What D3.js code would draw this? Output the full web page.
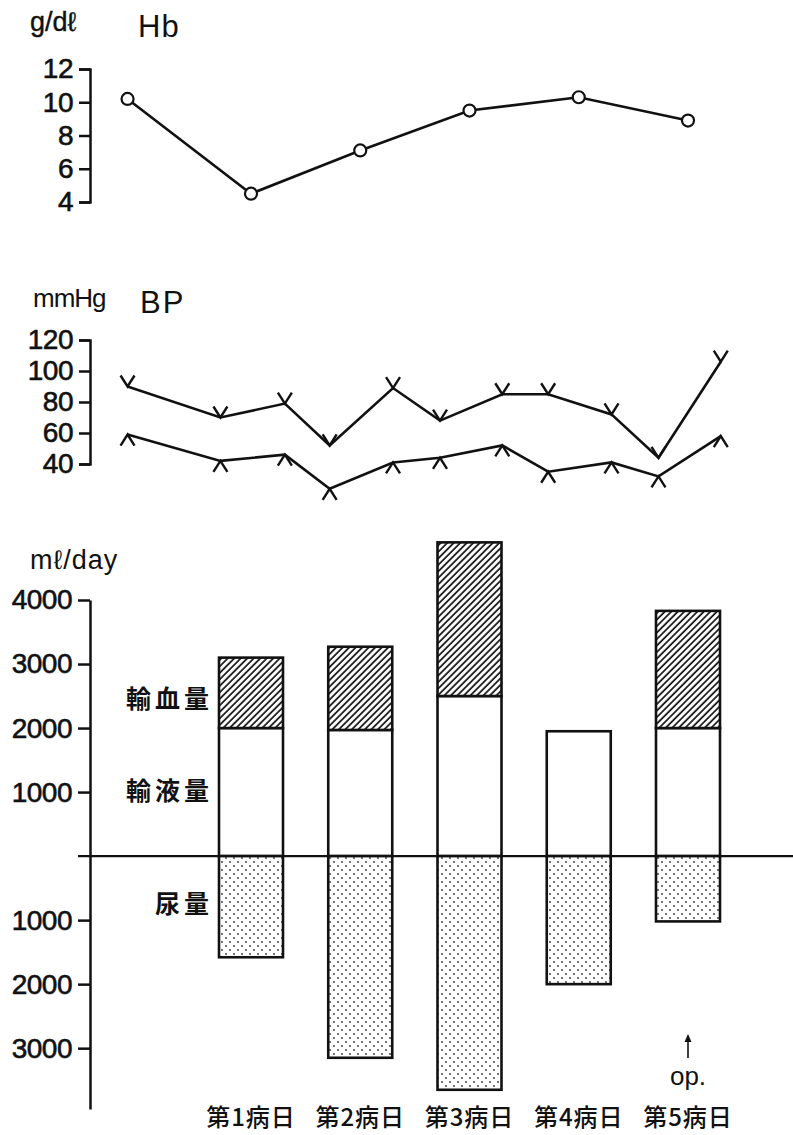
<html>
<head>
  <meta charset="utf-8">
  <script src="https://d3js.org/d3.v7.min.js"></script>
  <style>
    body { margin: 0; background: white; }
    text { fill: #111; }
  </style>
  <script>
    // day axis shared by all three panels
    var days      = [1, 2, 3, 4, 5];
    var dayLabels = ["第1病日", "第2病日", "第3病日", "第4病日", "第5病日"];

    // Hb (g/dl)
    var hbDay    = [-0.13, 1, 2, 3, 4, 5];
    var hbValues = [10.2, 4.5, 7.1, 9.5, 10.3, 8.9];
    var hbTicks  = [4, 6, 8, 10, 12];

    // BP (mmHg)
    var bpDay     = [-0.13, 0.72, 1.31, 1.72, 2.30, 2.73, 3.30, 3.72, 4.30, 4.73, 5.30];
    var systolic  = [90, 70, 79, 52, 89, 68, 85, 85, 72, 44, 106];
    var diastolic = [59, 42, 46, 24, 41, 44, 52, 35, 41, 32, 58];
    var bpTicks   = [40, 60, 80, 100, 120];

    // ml/day
    var infusion    = [2000, 1970, 2500, 1950, 2000];   // 輸液量
    var transfusion = [1100, 1300, 2400, 0, 1830];      // 輸血量
    var urine       = [1580, 3150, 3650, 2000, 1020];   // 尿量
    var volTicks    = [4000, 3000, 2000, 1000, -1000, -2000, -3000];

    var numFont = "'Liberation Sans', Arial, sans-serif";
    var cjkFont = "'Noto Sans CJK JP', sans-serif";

    function styleAxis(g) {
      g.select(".domain").attr("stroke", "#111").attr("stroke-width", 2.5);
      g.selectAll(".tick line").attr("stroke", "#111").attr("stroke-width", 2.5);
      g.selectAll(".tick text").attr("font-family", numFont).attr("font-size", 28)
          .attr("fill", "#111").attr("stroke", "#111").attr("stroke-width", 0.6)
          .attr("letter-spacing", -0.5);
    }

    function makeChart() {
      var svg = d3.select("#chart");

      var x = d3.scaleLinear().domain([1, 5]).range([251, 688]);

      var defs = svg.append("defs");
      var hatch = defs.append("pattern").attr("id", "hatch")
          .attr("width", 4.6).attr("height", 4.6)
          .attr("patternUnits", "userSpaceOnUse")
          .attr("patternTransform", "rotate(45)");
      hatch.append("rect").attr("width", 4.6).attr("height", 4.6).attr("fill", "white");
      hatch.append("line").attr("x1", 1).attr("y1", 0).attr("x2", 1).attr("y2", 4.6)
          .attr("stroke", "#111").attr("stroke-width", 1.7);

      var dots = defs.append("pattern").attr("id", "dots")
          .attr("width", 8).attr("height", 8)
          .attr("patternUnits", "userSpaceOnUse");
      dots.append("rect").attr("width", 8).attr("height", 8).attr("fill", "white");
      dots.append("circle").attr("cx", 2).attr("cy", 2).attr("r", 0.9).attr("fill", "#333");
      dots.append("circle").attr("cx", 6).attr("cy", 6).attr("r", 0.9).attr("fill", "#333");

      // ---------- Hb ----------
      var hbY = d3.scaleLinear().domain([4, 12]).range([202, 69]);
      svg.append("g").attr("transform", "translate(90,0)")
          .call(d3.axisLeft(hbY).tickValues(hbTicks).tickSize(11).tickSizeOuter(11).tickPadding(6))
          .call(styleAxis);

      svg.append("text").attr("x", 30).attr("y", 31).attr("font-family", numFont)
          .attr("font-size", 27).attr("stroke", "#111").attr("stroke-width", 0.4).text("g/dℓ");
      svg.append("text").attr("x", 138).attr("y", 37).attr("font-family", numFont)
          .attr("font-size", 31).attr("letter-spacing", 1).text("Hb");

      var hbPts = hbDay.map((d, i) => [x(d), hbY(hbValues[i])]);
      svg.append("path").attr("d", d3.line()(hbPts))
          .attr("fill", "none").attr("stroke", "#111").attr("stroke-width", 2.6);
      svg.selectAll(".hb").data(hbPts).enter().append("circle")
          .attr("cx", d => d[0]).attr("cy", d => d[1]).attr("r", 6)
          .attr("fill", "white").attr("stroke", "#111").attr("stroke-width", 2.2);

      // ---------- BP ----------
      var bpY = d3.scaleLinear().domain([40, 120]).range([464, 340]);
      svg.append("g").attr("transform", "translate(90,0)")
          .call(d3.axisLeft(bpY).tickValues(bpTicks).tickSize(11).tickSizeOuter(11).tickPadding(6))
          .call(styleAxis);

      svg.append("text").attr("x", 33).attr("y", 307).attr("font-family", numFont)
          .attr("font-size", 26).attr("letter-spacing", -1).text("mmHg");
      svg.append("text").attr("x", 140).attr("y", 313).attr("font-family", numFont)
          .attr("font-size", 31).attr("letter-spacing", 2).text("BP");

      function bpSeries(vals, dir) {
        var pts = bpDay.map((d, i) => [x(d), bpY(vals[i])]);
        svg.append("path").attr("d", d3.line()(pts))
            .attr("fill", "none").attr("stroke", "#111").attr("stroke-width", 2.6);
        svg.append("g").selectAll("path").data(pts).enter().append("path")
            .attr("d", d => "M" + (d[0] - 7) + "," + (d[1] + dir * 11) + "L" + d[0] + "," + d[1] +
                            "L" + (d[0] + 7) + "," + (d[1] + dir * 11))
            .attr("fill", "none").attr("stroke", "#111").attr("stroke-width", 2.4);
      }
      bpSeries(systolic, -1);
      bpSeries(diastolic, 1);

      // ---------- volume bars ----------
      var vY = d3.scaleLinear().domain([-3950, 4000]).range([1109, 600]);
      svg.append("g").attr("transform", "translate(90,0)")
          .call(d3.axisLeft(vY).tickValues(volTicks).tickSize(12).tickSizeOuter(0).tickPadding(6)
                .tickFormat(d => Math.abs(d)))
          .call(styleAxis);

      svg.append("text").attr("x", 30).attr("y", 569).attr("font-family", numFont)
          .attr("font-size", 27).attr("letter-spacing", 1).text("mℓ/day");

      svg.append("line").attr("x1", 78).attr("x2", 793).attr("y1", vY(0)).attr("y2", vY(0))
          .attr("stroke", "#111").attr("stroke-width", 2.2);

      var bw = 64;
      var bars = svg.append("g").attr("stroke", "#111").attr("stroke-width", 2.6);
      bars.selectAll(".inf").data(days).enter().append("rect")
          .attr("x", (d) => x(d) - bw / 2).attr("width", bw)
          .attr("y", (d, i) => vY(infusion[i])).attr("height", (d, i) => vY(0) - vY(infusion[i]))
          .attr("fill", "white");
      bars.selectAll(".tra").data(days.filter((d, i) => transfusion[i] > 0)).enter().append("rect")
          .attr("x", (d) => x(d) - bw / 2).attr("width", bw)
          .attr("y", (d) => vY(infusion[d - 1] + transfusion[d - 1]))
          .attr("height", (d) => vY(infusion[d - 1]) - vY(infusion[d - 1] + transfusion[d - 1]))
          .attr("fill", "url(#hatch)");
      bars.selectAll(".uri").data(days).enter().append("rect")
          .attr("x", (d) => x(d) - bw / 2).attr("width", bw)
          .attr("y", vY(0)).attr("height", (d, i) => vY(-urine[i]) - vY(0))
          .attr("fill", "url(#dots)");

      // series names beside day 1
      var lx = x(1) - bw / 2 - 6;
      var names = [["輸血量", vY(infusion[0] + transfusion[0] / 2) + 4],
                   ["輸液量", vY(infusion[0] / 2) - 3],
                   ["尿量",   vY(-urine[0] / 2) - 5]];
      svg.selectAll(".nm").data(names).enter().append("text")
          .attr("x", lx).attr("y", d => d[1]).attr("text-anchor", "end")
          .attr("dominant-baseline", "central").attr("font-family", cjkFont)
          .attr("font-weight", 700).attr("font-size", 25).attr("letter-spacing", 4)
          .text(d => d[0]);

      // day labels
      svg.selectAll(".day").data(days).enter().append("text")
          .attr("x", d => x(d)).attr("y", 1115).attr("text-anchor", "middle")
          .attr("dominant-baseline", "central").attr("font-family", cjkFont)
          .attr("font-weight", 500).attr("font-size", 24).attr("letter-spacing", 1)
          .text((d, i) => dayLabels[i]);

      // op. marker under day 5
      var ox = x(5);
      svg.append("line").attr("x1", ox).attr("x2", ox).attr("y1", 1058).attr("y2", 1040)
          .attr("stroke", "#111").attr("stroke-width", 1.6);
      svg.append("path").attr("d", "M" + (ox - 3.5) + ",1042L" + ox + ",1034L" + (ox + 3.5) + ",1042Z")
          .attr("fill", "#111");
      svg.append("text").attr("x", ox).attr("y", 1085).attr("text-anchor", "middle")
          .attr("font-family", numFont).attr("font-size", 26).text("op.");
    }
  </script>
</head>

<body onload="makeChart()">
  <svg id="chart" width="793" height="1135"></svg>
</body>
</html>
